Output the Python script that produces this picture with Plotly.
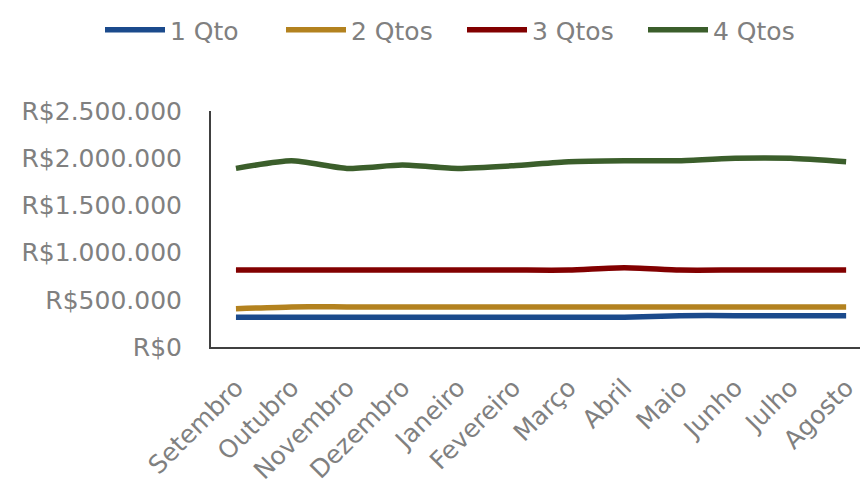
import plotly.graph_objects as go

meses = ["Setembro", "Outubro", "Novembro", "Dezembro", "Janeiro", "Fevereiro",
         "Março", "Abril", "Maio", "Junho", "Julho", "Agosto"]

qto1 = [315000, 315000, 315000, 315000, 315000, 315000,
        315000, 315000, 332000, 332000, 332000, 332000]
qto2 = [405000, 425000, 425000, 425000, 425000, 425000,
        425000, 425000, 425000, 425000, 425000, 425000]
qto3 = [815000, 815000, 815000, 815000, 815000, 815000,
        815000, 840000, 815000, 815000, 815000, 815000]
qto4 = [1892000, 1973000, 1892000, 1927000, 1892000, 1920000,
        1963000, 1973000, 1973000, 1999000, 1999000, 1963000]

series = [
    ("1 Qto", qto1, "#1B4A8C"),
    ("2 Qtos", qto2, "#B3821F"),
    ("3 Qtos", qto3, "#820000"),
    ("4 Qtos", qto4, "#3B5E2B"),
]

y_ticks = [0, 500000, 1000000, 1500000, 2000000, 2500000]
y_labels = ["R$0", "R$500.000", "R$1.000.000", "R$1.500.000",
            "R$2.000.000", "R$2.500.000"]

fig = go.Figure()
for nome, valores, cor in series:
    fig.add_trace(go.Scatter(
        x=meses, y=valores, name=nome, mode="lines",
        line=dict(color=cor, width=5.5, shape="spline", smoothing=0.6),
    ))

font_fam = "DejaVu Sans"
gray = "#808080"
fsize = 25

W, H = 860, 479
ml, mr, mt, mb = 211, 0, 111, 132
plot_w = W - ml - mr
plot_h = H - mt - mb

fig.update_layout(
    width=W, height=H,
    margin=dict(l=ml, r=mr, t=mt, b=mb, autoexpand=False),
    paper_bgcolor="white", plot_bgcolor="white",
    font=dict(family=font_fam, size=fsize, color=gray),
    showlegend=True,
    # legend sits left of and above the plot area so it may span the full width
    legend=dict(orientation="h",
                x=(100 - ml) / plot_w, xanchor="left",
                y=(H - mb - 7) / plot_h, yanchor="top",
                font=dict(family=font_fam, size=fsize, color=gray),
                itemwidth=60, entrywidth=106, entrywidthmode="pixels",
                tracegroupgap=0),
    xaxis=dict(
        type="category", range=[-0.45, 11.25], automargin=False,
        showline=True, linecolor="#404040", linewidth=2,
        showgrid=False, zeroline=False, ticks="",
        tickangle=-45, tickfont=dict(size=fsize, color=gray),
        ticklabelstandoff=14,
    ),
    yaxis=dict(
        range=[0, 2500000], tickvals=y_ticks, ticktext=y_labels,
        automargin=False,
        showline=True, linecolor="#404040", linewidth=2,
        showgrid=False, zeroline=False, ticks="",
        tickfont=dict(size=fsize, color=gray), ticklabelstandoff=22,
    ),
)

fig.write_html("out.html")
